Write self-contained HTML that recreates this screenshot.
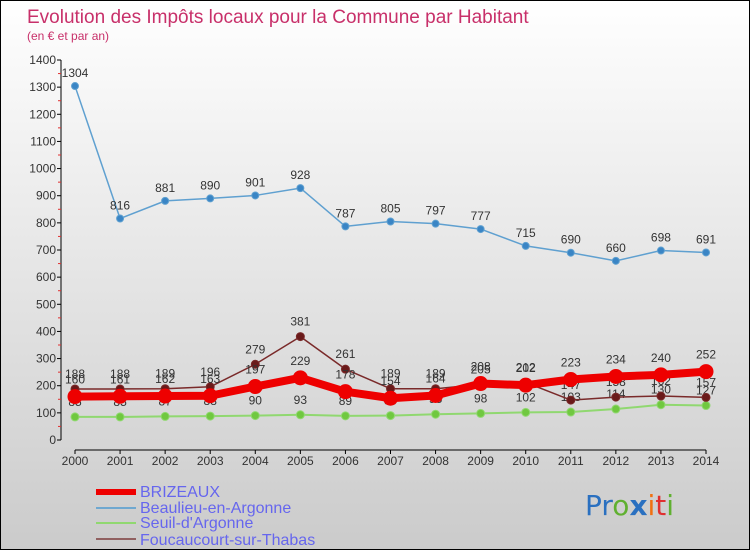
<!DOCTYPE html>
<html><head><meta charset="utf-8"><style>
body{margin:0;width:750px;height:550px;overflow:hidden;font-family:"Liberation Sans",sans-serif}
</style></head><body>
<svg id="c" width="750" height="550" xmlns="http://www.w3.org/2000/svg">
<defs><linearGradient id="bg" x1="0" y1="0" x2="0" y2="1"><stop offset="0" stop-color="#ffffff"/><stop offset="1" stop-color="#cbcbcb"/></linearGradient></defs>
<rect x="0" y="0" width="750" height="550" fill="url(#bg)"/>
<rect x="0.5" y="0.5" width="749" height="549" fill="none" stroke="#000"/>
<text x="27" y="23" font-size="19" fill="#c8306a">Evolution des Impôts locaux pour la Commune par Habitant</text>
<text x="27" y="40" font-size="12" fill="#c8306a">(en € et par an)</text>
<g id="axes"></g><g id="series"></g>
<g>
<rect x="96" y="489" width="40" height="6" fill="#ee0000"/>
<text x="140" y="497" font-size="16" fill="#6666ee">BRIZEAUX</text>
<rect x="96" y="507" width="40" height="2" fill="#6fa8d0"/>
<text x="140" y="513" font-size="16" fill="#6666ee">Beaulieu-en-Argonne</text>
<rect x="96" y="522" width="40" height="2" fill="#90d870"/>
<text x="140" y="528" font-size="16" fill="#6666ee">Seuil-d'Argonne</text>
<rect x="96" y="538" width="40" height="2" fill="#906060"/>
<text x="140" y="545" font-size="16" fill="#6666ee">Foucaucourt-sur-Thabas</text>
</g>
<text x="585" y="515" font-size="28" font-family="'DejaVu Sans',sans-serif"><tspan fill="#2a70c0">Pr</tspan><tspan fill="#60b030">o</tspan><tspan fill="#2a70c0" font-weight="bold">x</tspan><tspan fill="#f07010">i</tspan><tspan fill="#e03030">t</tspan><tspan fill="#60b030">i</tspan></text>
</svg>
<script>
const years=["2000","2001","2002","2003","2004","2005","2006","2007","2008","2009","2010","2011","2012","2013","2014"];
const brizeaux=[160,161,162,163,197,229,178,154,164,208,202,223,234,240,252];
const beaulieu=[1304,816,881,890,901,928,787,805,797,777,715,690,660,698,691];
const seuil=[85,85,87,88,90,93,89,90,95,98,102,103,114,130,127];
const fouc=[188,188,189,196,279,381,261,189,189,205,212,147,158,162,157];
const yTicks=[0,100,200,300,400,500,600,700,800,900,1000,1100,1200,1300,1400];
const NS="http://www.w3.org/2000/svg";
const X=i=>75+i*(706-75)/(years.length-1);
const Y=v=>440-v*380/1400;
function el(t,a,p){const e=document.createElementNS(NS,t);for(const k in a)e.setAttribute(k,a[k]);p.appendChild(e);return e;}
const ax=document.getElementById('axes'),sg=document.getElementById('series');
let l=el('line',{x1:61,y1:Y(1400),x2:61,y2:Y(0),stroke:'#000'},ax);


l=el('line',{x1:X(0),y1:450,x2:X(years.length-1),y2:450,stroke:'#000'},ax);


yTicks.forEach((v,i)=>{
  el('line',{x1:57,y1:Y(v),x2:61,y2:Y(v),stroke:'#000'},ax);
  if(i<yTicks.length-1)el('line',{x1:58,y1:Y(v+50),x2:61,y2:Y(v+50),stroke:'#e03030'},ax);
  const t=el('text',{x:56,y:Y(v)+4,'font-size':12,fill:'#333','text-anchor':'end'},ax);
  t.textContent=v;
  
  
});
years.forEach((y,i)=>{
  el('line',{x1:X(i),y1:450,x2:X(i),y2:454,stroke:'#000'},ax);
  const t=el('text',{x:X(i),y:465,'font-size':12,fill:'#333','text-anchor':'middle'},ax);
  t.textContent=y;
  
  
});
function series(d,name,col,w,r,dot,lab,dy){
  const g=el('g',{},sg);
  
  
  el('polyline',{points:d.map((v,i)=>X(i)+','+Y(v)).join(' '),fill:'none',stroke:col,'stroke-width':w,'stroke-linejoin':'round'},g);
  d.forEach((v,i)=>{
    const c=el('circle',{cx:X(i),cy:Y(v),r:r,fill:dot,stroke:col,'stroke-width':1},g);
    
    
    if(lab){const t=el('text',{x:X(i),y:Y(v)+dy,'font-size':12,fill:'#333','text-anchor':'middle'},g);
    t.textContent=v;
    
    }
  });
}
series(seuil,'seuil','#90d870',2,4,'#70c840',true,-11);
series(beaulieu,'beaulieu','#5fa0d0',1.5,3.5,'#3a85c5',true,-9);
series(fouc,'foucaucourt','#7a2a2a',1.5,4,'#6a1a1a',true,-11);
series(brizeaux,'brizeaux','#ee0000',8,7,'#ee0000',true,-13);
</script>
</body></html>
